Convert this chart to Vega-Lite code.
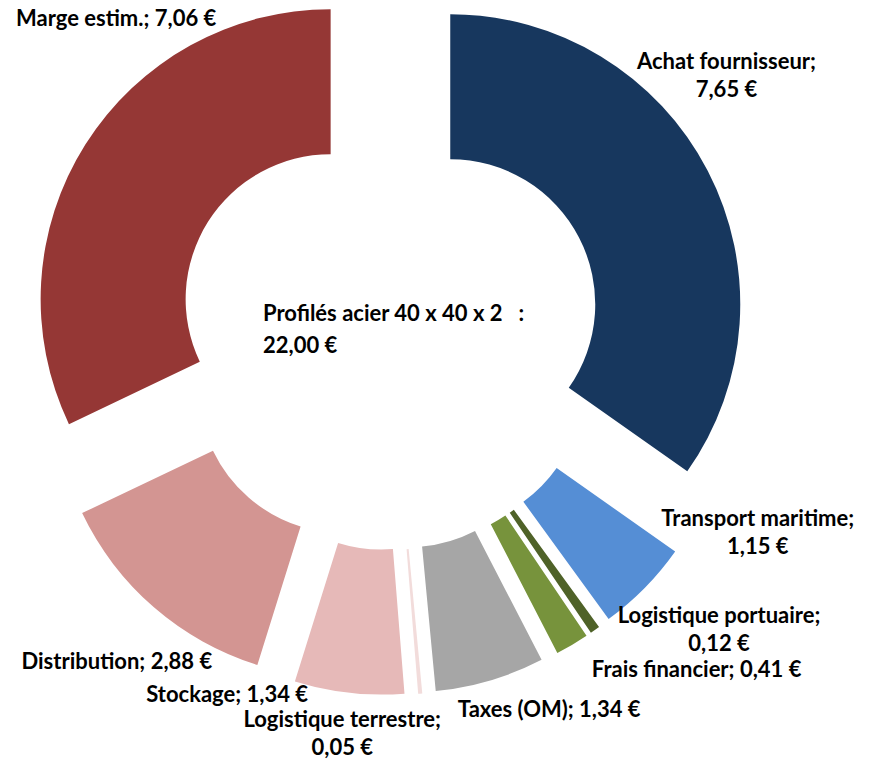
{
  "$schema": "https://vega.github.io/schema/vega-lite/v6.json",
  "width": 874,
  "height": 761,
  "autosize": {"type": "none"},
  "padding": 0,
  "background": "white",
  "config": {"view": {"stroke": null}},
  "data": {
    "values": [
      {"cat": "Achat fournisseur", "value": 7.65, "order": 1, "label": "Achat fournisseur;\n7,65 €"},
      {"cat": "Transport maritime", "value": 1.15, "order": 2, "label": "Transport maritime;\n1,15 €"},
      {"cat": "Logistique portuaire", "value": 0.12, "order": 3, "label": "Logistique portuaire;\n0,12 €"},
      {"cat": "Frais financier", "value": 0.41, "order": 4, "label": "Frais financier; 0,41 €"},
      {"cat": "Taxes (OM)", "value": 1.34, "order": 5, "label": "Taxes (OM); 1,34 €"},
      {"cat": "Logistique terrestre", "value": 0.05, "order": 6, "label": "Logistique terrestre;\n0,05 €"},
      {"cat": "Stockage", "value": 1.34, "order": 7, "label": "Stockage; 1,34 €"},
      {"cat": "Distribution", "value": 2.88, "order": 8, "label": "Distribution; 2,88 €"},
      {"cat": "Marge estim.", "value": 7.06, "order": 9, "label": "Marge estim.; 7,06 €"}
    ]
  },
  "transform": [
    {"stack": "value", "groupby": [], "sort": [{"field": "order", "order": "ascending"}], "as": ["v0", "v1"]},
    {"joinaggregate": [{"op": "sum", "field": "value", "as": "total"}]},
    {"calculate": "(datum.v0 + datum.v1) / 2", "as": "mid"},
    {"calculate": "sin(2 * PI * datum.mid / datum.total)", "as": "ex"},
    {"calculate": "-cos(2 * PI * datum.mid / datum.total)", "as": "ey"}
  ],
  "layer": [
    {
      "mark": {"type": "arc", "outerRadius": 290, "innerRadius": 145},
      "encoding": {
        "theta": {"field": "v0", "type": "quantitative", "stack": null, "scale": {"domain": [0, 22]}},
        "theta2": {"field": "v1"},
        "x": {"field": "ex", "type": "quantitative", "scale": {"domain": [-1, 1], "range": [320, 458]}, "axis": null},
        "y": {"field": "ey", "type": "quantitative", "scale": {"domain": [-1, 1], "range": [267, 405]}, "axis": null},
        "color": {
          "field": "cat", "type": "nominal", "legend": null,
          "scale": {
            "domain": ["Achat fournisseur", "Transport maritime", "Logistique portuaire", "Frais financier", "Taxes (OM)", "Logistique terrestre", "Stockage", "Distribution", "Marge estim."],
            "range": ["#17375E", "#558ED5", "#4F6228", "#77933C", "#A6A6A6", "#F2DCDB", "#E6B9B8", "#D39592", "#953735"]
          }
        }
      }
    },
    {"transform": [{"filter": "datum.cat === 'Achat fournisseur'"}], "mark": {"type": "text", "radius": 426, "thetaOffset": -0.178, "dy": -14, "font": "Lato", "fontWeight": "bold", "fontSize": 22, "lineHeight": 28, "lineBreak": "\n", "align": "center", "baseline": "middle", "color": "black"},
     "encoding": {"theta": {"field": "mid", "type": "quantitative"}, "x": {"datum": 0, "type": "quantitative"}, "y": {"datum": 0, "type": "quantitative"}, "text": {"field": "label"}}},
    {"transform": [{"filter": "datum.cat === 'Transport maritime'"}], "mark": {"type": "text", "radius": 418, "thetaOffset": -0.288, "dy": -14, "font": "Lato", "fontWeight": "bold", "fontSize": 22, "lineHeight": 28, "lineBreak": "\n", "align": "center", "baseline": "middle", "color": "black"},
     "encoding": {"theta": {"field": "mid", "type": "quantitative"}, "x": {"datum": 0, "type": "quantitative"}, "y": {"datum": 0, "type": "quantitative"}, "text": {"field": "label"}}},
    {"transform": [{"filter": "datum.cat === 'Logistique portuaire'"}], "mark": {"type": "text", "radius": 442, "thetaOffset": -0.232, "dy": -14, "font": "Lato", "fontWeight": "bold", "fontSize": 22, "lineHeight": 28, "lineBreak": "\n", "align": "center", "baseline": "middle", "color": "black"},
     "encoding": {"theta": {"field": "mid", "type": "quantitative"}, "x": {"datum": 0, "type": "quantitative"}, "y": {"datum": 0, "type": "quantitative"}, "text": {"field": "label"}}},
    {"transform": [{"filter": "datum.cat === 'Frais financier'"}], "mark": {"type": "text", "radius": 454, "thetaOffset": -0.209, "font": "Lato", "fontWeight": "bold", "fontSize": 22, "lineHeight": 28, "lineBreak": "\n", "align": "center", "baseline": "middle", "color": "black"},
     "encoding": {"theta": {"field": "mid", "type": "quantitative"}, "x": {"datum": 0, "type": "quantitative"}, "y": {"datum": 0, "type": "quantitative"}, "text": {"field": "label"}}},
    {"transform": [{"filter": "datum.cat === 'Taxes (OM)'"}], "mark": {"type": "text", "radius": 407, "thetaOffset": -0.119, "font": "Lato", "fontWeight": "bold", "fontSize": 22, "lineHeight": 28, "lineBreak": "\n", "align": "center", "baseline": "middle", "color": "black"},
     "encoding": {"theta": {"field": "mid", "type": "quantitative"}, "x": {"datum": 0, "type": "quantitative"}, "y": {"datum": 0, "type": "quantitative"}, "text": {"field": "label"}}},
    {"transform": [{"filter": "datum.cat === 'Logistique terrestre'"}], "mark": {"type": "text", "radius": 401, "thetaOffset": 0.204, "dy": -14, "font": "Lato", "fontWeight": "bold", "fontSize": 22, "lineHeight": 28, "lineBreak": "\n", "align": "center", "baseline": "middle", "color": "black"},
     "encoding": {"theta": {"field": "mid", "type": "quantitative"}, "x": {"datum": 0, "type": "quantitative"}, "y": {"datum": 0, "type": "quantitative"}, "text": {"field": "label"}}},
    {"transform": [{"filter": "datum.cat === 'Stockage'"}], "mark": {"type": "text", "radius": 394, "thetaOffset": 0.312, "font": "Lato", "fontWeight": "bold", "fontSize": 22, "lineHeight": 28, "lineBreak": "\n", "align": "center", "baseline": "middle", "color": "black"},
     "encoding": {"theta": {"field": "mid", "type": "quantitative"}, "x": {"datum": 0, "type": "quantitative"}, "y": {"datum": 0, "type": "quantitative"}, "text": {"field": "label"}}},
    {"transform": [{"filter": "datum.cat === 'Distribution'"}], "mark": {"type": "text", "radius": 425, "thetaOffset": -0.019, "font": "Lato", "fontWeight": "bold", "fontSize": 22, "lineHeight": 28, "lineBreak": "\n", "align": "center", "baseline": "middle", "color": "black"},
     "encoding": {"theta": {"field": "mid", "type": "quantitative"}, "x": {"datum": 0, "type": "quantitative"}, "y": {"datum": 0, "type": "quantitative"}, "text": {"field": "label"}}},
    {"transform": [{"filter": "datum.cat === 'Marge estim.'"}], "mark": {"type": "text", "radius": 418, "thetaOffset": 0.297, "font": "Lato", "fontWeight": "bold", "fontSize": 22, "lineHeight": 28, "lineBreak": "\n", "align": "center", "baseline": "middle", "color": "black"},
     "encoding": {"theta": {"field": "mid", "type": "quantitative"}, "x": {"datum": 0, "type": "quantitative"}, "y": {"datum": 0, "type": "quantitative"}, "text": {"field": "label"}}},
    {
      "data": {"values": [{"title": "Profilés acier 40 x 40 x 2\u00a0\u00a0\u00a0:\n22,00 €"}]},
      "mark": {"type": "text", "font": "Lato", "fontWeight": "bold", "fontSize": 22, "lineHeight": 32, "lineBreak": "\n", "align": "left", "baseline": "middle", "dx": -126, "dy": -22, "color": "black"},
      "encoding": {"x": {"datum": 0, "type": "quantitative"}, "y": {"datum": 0, "type": "quantitative"}, "text": {"field": "title"}}
    }
  ]
}
